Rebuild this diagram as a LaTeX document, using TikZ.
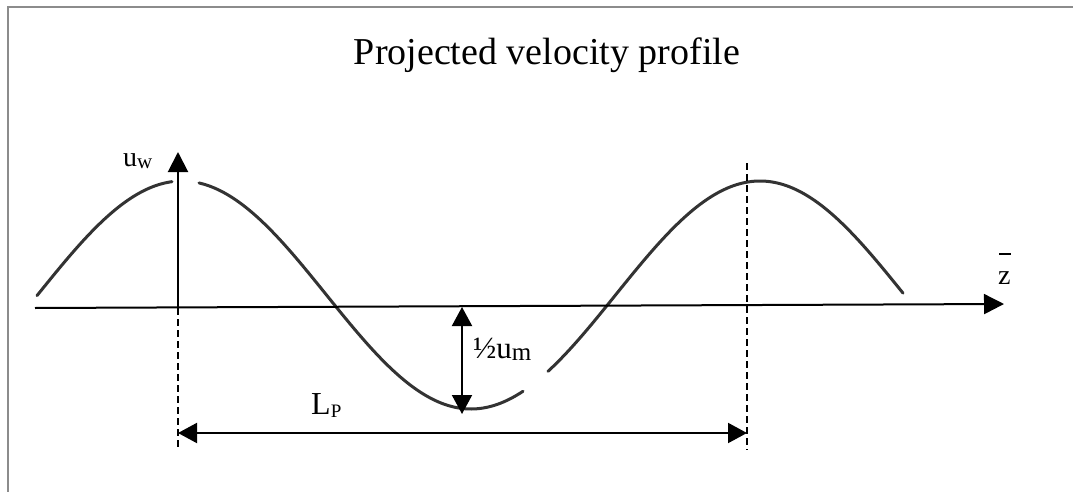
\documentclass[tikz,border=0pt]{standalone}
\usepackage{fontspec}
\setmainfont{Liberation Serif}
\usetikzlibrary{arrows.meta}
\begin{document}
\begin{tikzpicture}[x=1pt,y=-1pt,
  axis/.style={line width=2pt, -{Triangle[length=20pt,width=20pt]}},
  dimarrow/.style={line width=2pt, {Triangle[length=19pt,width=20pt]}-{Triangle[length=19pt,width=20pt]}},
  guide/.style={line width=1.8pt, dash pattern=on 7pt off 4pt},
  wave/.style={line width=3pt, black!80, line cap=round},
  lbl/.style={inner sep=0pt, anchor=base west},
  frameline/.style={line width=1.2pt, black!45}]
\useasboundingbox (0,0) rectangle (1073,492);
% scan frame (top and left edges only)
\draw[frameline] (8,492) -- (8,7) -- (1073,7);
% title
\node[inner sep=0pt, anchor=base] (title) at (547,65) {\fontsize{38}{40}\selectfont Projected velocity profile};
% key points
\coordinate (xstart) at (35,308);
\coordinate (xend) at (1004,304);
\coordinate (O) at (178,308);
\coordinate (ytip) at (178,152);
\coordinate (dlbot) at (178,450);
\coordinate (drtop) at (747,163);
\coordinate (drbot) at (747,450);
\coordinate (lpL) at (178,433);
\coordinate (lpR) at (747,433);
\coordinate (umtop) at (462,307);
\coordinate (umbot) at (462,414);
% wave
\def\wavey#1{295-114*cos(0.622837*(#1-182))}
\draw[wave] plot[domain=37:172, samples=60, smooth] (\x,{\wavey{\x}});
\draw[wave] plot[domain=199:523, samples=120, smooth] (\x,{\wavey{\x}});
\draw[wave] plot[domain=548:903, samples=120, smooth] (\x,{\wavey{\x}});
% axes
\draw[axis] (xstart) -- (xend);
\draw[axis] (O) -- (ytip);
% dashed guides
\draw[guide] (O) -- (dlbot);
\draw[guide] (drtop) -- (drbot);
% dimension arrows
\draw[dimarrow] (lpL) -- (lpR);
\draw[dimarrow] (umtop) -- (umbot);
% labels
\node[lbl] (uw) at (123,166) {\fontsize{28}{28}\selectfont u\raisebox{-2pt}{\fontsize{21}{21}\selectfont w}};
\node[lbl] (um) at (473,358) {\fontsize{31}{31}\selectfont ½u\raisebox{-2pt}{\fontsize{25}{25}\selectfont m}};
\node[lbl] (lp) at (311,414) {\fontsize{32}{32}\selectfont L\raisebox{-3pt}{\fontsize{19}{19}\selectfont P}};
\node[lbl] (zl) at (998,284) {\fontsize{28}{28}\selectfont z};
\draw[line width=1.4pt] ([yshift=30pt]zl.base west) ++(1,0) -- ++(12,0);
\end{tikzpicture}
\end{document}
